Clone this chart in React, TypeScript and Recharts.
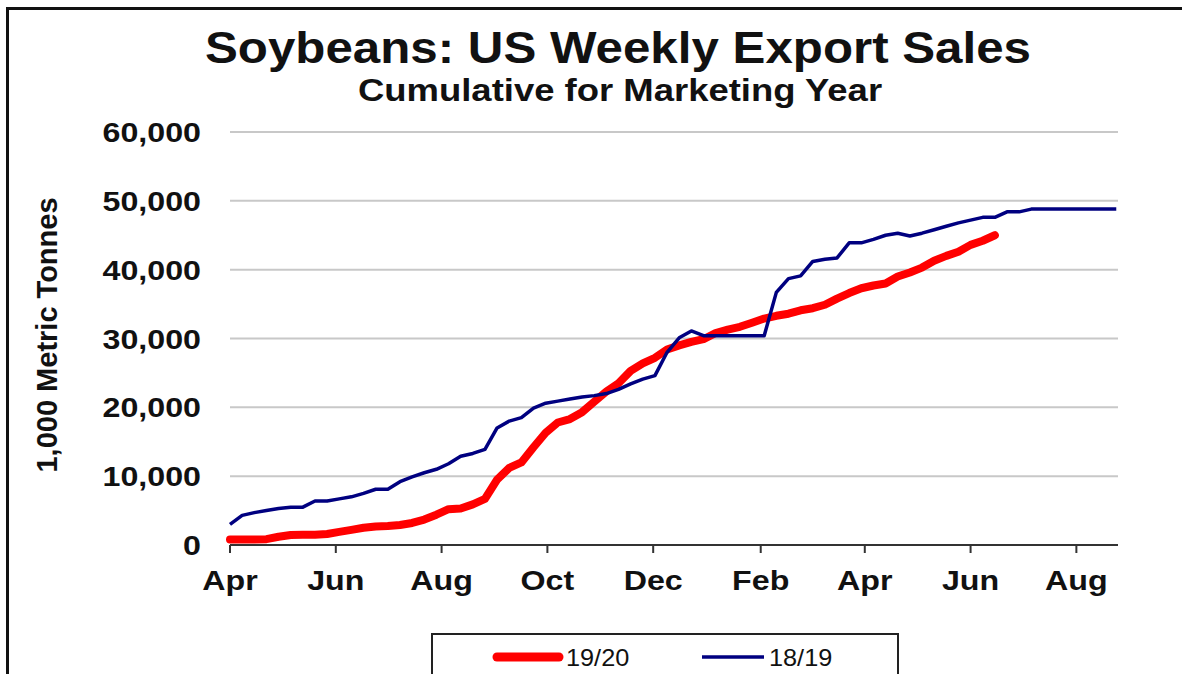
import React from "react";
import { LineChart, Line, XAxis, YAxis, CartesianGrid, Legend } from "recharts";

// cumulative export sales, 1,000 metric tonnes, one value per week from Apr 1
const sales1920 = [
  800, 800, 800, 850, 1200, 1450, 1500, 1500, 1600, 1900,
  2200, 2500, 2700, 2750, 2900, 3200, 3700, 4400, 5200, 5300,
  5900, 6700, 9500, 11200, 12000, 14200, 16300, 17800, 18300, 19300,
  20800, 22300, 23500, 25300, 26400, 27200, 28400, 29000, 29500, 29900,
  30800, 31300, 31700, 32300, 32900, 33300, 33600, 34100, 34400, 34900,
  35800, 36600, 37300, 37700, 38000, 39000, 39600, 40300, 41300, 42000,
  42600, 43600, 44200, 45000,
];

const sales1819 = [
  3000, 4300, 4700, 5000, 5300, 5500, 5500, 6400, 6400, 6700,
  7000, 7500, 8100, 8100, 9200, 9900, 10500, 11000, 11800, 12900,
  13300, 13900, 17000, 18000, 18500, 19900, 20600, 20900, 21200, 21500,
  21700, 22000, 22600, 23400, 24100, 24600, 28000, 30100, 31100, 30400,
  30400, 30400, 30400, 30400, 30400, 36700, 38700, 39100, 41200, 41500,
  41700, 43900, 43900, 44400, 45000, 45300, 44900, 45300, 45800, 46300,
  46800, 47200, 47600, 47600, 48400, 48400, 48800, 48800, 48800, 48800,
  48800, 48800, 48800, 48800,
];

// tick positions = days since Apr 1
const monthTicks = [0, 61, 122, 183, 244, 306, 366, 427, 488];
const monthLabels = ["Apr", "Jun", "Aug", "Oct", "Dec", "Feb", "Apr", "Jun", "Aug"];
const yTicks = [0, 10000, 20000, 30000, 40000, 50000, 60000];
const legendOrder = ["s1920", "s1819"];

const data = sales1819.map((v, i) => ({
  day: i * 7,
  s1819: v,
  s1920: sales1920[i],
}));

const FONT = "Arial, 'Liberation Sans', Helvetica, sans-serif";
const SX = 1.15; // source image is stretched horizontally

const YTick = (props: any) => {
  const { x, y, payload } = props;
  return (
    <text
      transform={`translate(${x - 29},${y + 10}) scale(${SX},1)`}
      textAnchor="end"
      fontFamily={FONT}
      fontWeight="bold"
      fontSize={28}
      fill="#111"
    >
      {payload.value.toLocaleString("en-US")}
    </text>
  );
};

const XTick = (props: any) => {
  const { x, y, payload } = props;
  const idx = monthTicks.indexOf(payload.value);
  return (
    <text
      transform={`translate(${x},${y + 37}) scale(${SX},1)`}
      textAnchor="middle"
      fontFamily={FONT}
      fontWeight="bold"
      fontSize={28}
      fill="#111"
    >
      {monthLabels[idx]}
    </text>
  );
};

const LegendBox = (props: any) => {
  const items = [...(props.payload || [])].sort(
    (a: any, b: any) => legendOrder.indexOf(a.dataKey) - legendOrder.indexOf(b.dataKey)
  );
  const slots = [
    { lx: 66, tx: 135 },
    { lx: 271, tx: 338 },
  ];
  return (
    <svg width={470} height={60}>
      <rect x={1} y={1} width={466} height={70} fill="#fff" stroke="#222" strokeWidth={2} />
      {items.map((p: any, i: number) => {
        const s = slots[i] || slots[0];
        const isRed = p.dataKey === "s1920";
        return (
          <g key={p.value}>
            <line
              x1={s.lx}
              x2={s.lx + 62}
              y1={24}
              y2={24}
              stroke={p.color}
              strokeWidth={isRed ? 9 : 3.5}
              strokeLinecap={isRed ? "round" : "butt"}
            />
            <text
              transform={`translate(${s.tx},${33}) scale(1.1,1)`}
              fontFamily={FONT}
              fontSize={23}
              fill="#111"
            >
              {p.value}
            </text>
          </g>
        );
      })}
    </svg>
  );
};

export default function App() {
  return (
    <div
      style={{
        position: "absolute",
        left: 0,
        top: 0,
        width: 1182,
        height: 674,
        overflow: "hidden",
        background: "#fff",
      }}
    >
      <div
        style={{
          position: "absolute",
          left: 6,
          top: 7,
          width: 1190,
          height: 720,
          borderTop: "3px solid #111",
          borderLeft: "3px solid #111",
          boxSizing: "border-box",
        }}
      />
      <LineChart
        width={1182}
        height={674}
        data={data}
        margin={{ top: 132, right: 64, bottom: 69, left: 100 }}
      >
        <CartesianGrid vertical={false} stroke="#c8c8c8" strokeWidth={2} />
        <XAxis
          type="number"
          dataKey="day"
          domain={[0, 512]}
          ticks={monthTicks}
          interval={0}
          height={60}
          tick={<XTick />}
          tickSize={8}
          tickMargin={0}
          axisLine={{ stroke: "#333", strokeWidth: 2 }}
          tickLine={{ stroke: "#333", strokeWidth: 2 }}
        />
        <YAxis
          domain={[0, 60000]}
          ticks={yTicks}
          interval={0}
          width={130}
          tick={<YTick />}
          tickSize={0}
          tickMargin={0}
          axisLine={false}
          tickLine={false}
        />
        <Line
          dataKey="s1920"
          name="19/20"
          type="linear"
          stroke="#ff0000"
          strokeWidth={8}
          strokeLinecap="round"
          strokeLinejoin="round"
          dot={false}
          isAnimationActive={false}
        />
        <Line
          dataKey="s1819"
          name="18/19"
          type="linear"
          stroke="#000080"
          strokeWidth={3.5}
          strokeLinejoin="round"
          dot={false}
          isAnimationActive={false}
        />
        <Legend
          layout="vertical"
          align="center"
          verticalAlign="middle"
          content={<LegendBox />}
          wrapperStyle={{ left: 431, top: 633, width: 470, height: 60 }}
        />
      </LineChart>
      <svg
        width={1182}
        height={674}
        style={{ position: "absolute", left: 0, top: 0, pointerEvents: "none" }}
      >
        <text
          transform={`translate(618,63) scale(1.12,1)`}
          textAnchor="middle"
          fontFamily={FONT}
          fontWeight="bold"
          fontSize={44}
          fill="#111"
        >
          Soybeans: US Weekly Export Sales
        </text>
        <text
          transform={`translate(620,101) scale(1.14,1)`}
          textAnchor="middle"
          fontFamily={FONT}
          fontWeight="bold"
          fontSize={32}
          fill="#111"
        >
          Cumulative for Marketing Year
        </text>
        <text
          transform="translate(57,335) rotate(-90)"
          textAnchor="middle"
          fontFamily={FONT}
          fontWeight="bold"
          fontSize={29}
          fill="#111"
        >
          1,000 Metric Tonnes
        </text>
      </svg>
    </div>
  );
}
